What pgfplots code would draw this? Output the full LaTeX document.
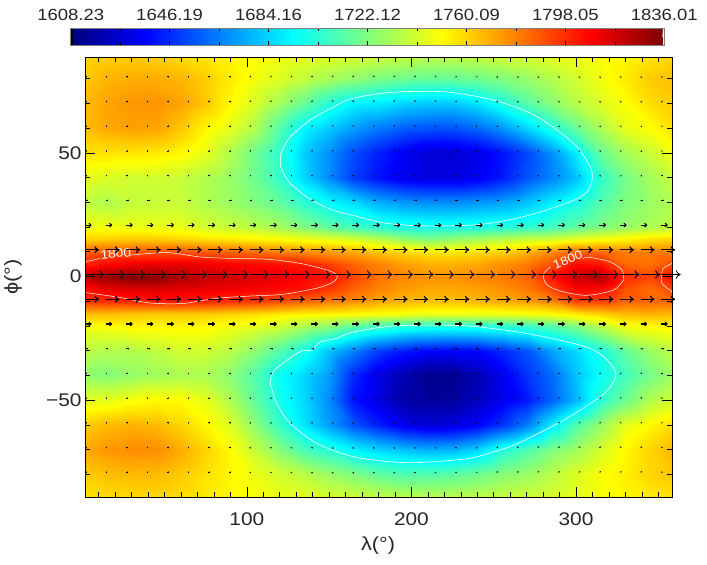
\documentclass[border=0pt]{standalone}
\usepackage{pgfplots}
\pgfplotsset{compat=1.18}
\usepackage{pgfplotstable}
\usepackage{fontspec}
\setmainfont[FakeStretch=1.14]{Liberation Sans}
\usetikzlibrary{arrows.meta}
\definecolor{txt}{gray}{0.15}
\pgfplotsset{
  colormap={idl}{rgb(0pt)=(0,0,0); rgb(3pt)=(0,0,0); rgb(4pt)=(0,0,.5); rgb(125pt)=(0,0,1); rgb(375pt)=(0,1,1); rgb(625pt)=(1,1,0); rgb(875pt)=(1,0,0); rgb(996pt)=(.5,0,0); rgb(997pt)=(1,1,1); rgb(1000pt)=(1,1,1)},
}
\tikzset{
 qtiny/.style={black,line width=.8pt,-{To[length=.8pt,width=1.6pt]}},
 qmid/.style={black,line width=1.1pt,-{To[length=3pt,width=4.5pt]}},
 qlarge/.style={black,line width=1.15pt,-{To[length=4.5pt,width=7pt]}},
 qhuge/.style={black,line width=.8pt,-{To[length=5pt,width=8.5pt]}},
}
\pgfplotstableread{
lon u v1 v2 v3
1.7 0.8 0 0 0
14.2 0.8 0 0 0
26.7 0.8 0 0 0
39.2 0.8 0 0 0
51.7 0.8 0 0 0
64.2 0.8 0 0 0
76.7 0.8 0 0 0
89.2 0.8 0 0 0
101.7 0.8 .15 .05 0
114.2 0.8 .15 .05 0
126.7 0.8 .15 .05 0
139.2 0.8 .2 .1 .05
151.7 0.8 .3 .15 .05
164.2 0.8 .3 .15 .05
176.7 0.8 .3 .15 .05
189.2 0.8 .3 .15 .05
201.7 0.8 .3 .15 .05
214.2 0.8 .2 .1 .05
226.7 0.8 .1 .05 0
239.2 0.8 .1 0 0
251.7 0.8 -.2 -.05 0
264.2 0.8 -.3 -.15 -.05
276.7 0.8 -.3 -.15 -.05
289.2 0.8 -.3 -.15 -.05
301.7 0.8 -.3 -.15 -.05
314.2 0.8 -.3 -.15 -.05
326.7 0.8 -.3 -.15 -.05
339.2 0.8 -.3 -.15 -.05
351.7 0.8 -.15 -.1 0
}\arrowtab
\begin{document}
\begin{tikzpicture}[x=1pt,y=1pt,every node/.style={text=txt}]
\path[use as bounding box] (0,0) rectangle (707,565);
\begin{axis}[name=main,at={(85pt,68pt)},anchor=south west,scale only axis,width=587pt,height=440pt,
  xmin=1.7,xmax=358.3,ymin=-89.2,ymax=88.8,view={0}{90},
  colormap name=idl,point meta min=1608.23,point meta max=1836.01,
  xtick={100,200,300},minor xtick={10,20,30,40,50,60,70,80,90,110,120,130,140,150,160,170,180,190,210,220,230,240,250,260,270,280,290,310,320,330,340,350},
  ytick={-50,0,50},yticklabels={−50,0,50},minor ytick={-80,-70,-60,-40,-30,-20,-10,10,20,30,40,60,70,80},
  xticklabel style={font=\fontsize{18.3}{20}\selectfont,text=txt,yshift=-12pt},
  yticklabel style={font=\fontsize{18.3}{20}\selectfont,text=txt},
  /pgf/number format/assume math mode=true,
  tick align=inside,major tick length=10pt,minor tick length=5pt,
  tick style={black,line width=.6pt},
  axis line style={black,line width=.7pt},
  axis on top,clip=false,
]
\addplot[surf,shader=interp,point meta=explicit,mesh/rows=23,mesh/cols=25,mesh/ordering=rowwise] table[row sep=\\,x=x,y=y,meta=z]{
x y z\\
1.7 -89.2 1757\\15 -89.2 1758\\30 -89.2 1759\\45 -89.2 1759\\60 -89.2 1758\\75 -89.2 1755\\90 -89.2 1752\\105 -89.2 1749\\120 -89.2 1746\\135 -89.2 1744\\150 -89.2 1741\\165 -89.2 1739\\180 -89.2 1737\\195 -89.2 1735\\210 -89.2 1735\\225 -89.2 1735\\240 -89.2 1736\\255 -89.2 1738\\270 -89.2 1740\\285 -89.2 1742\\300 -89.2 1745\\315 -89.2 1749\\330 -89.2 1752\\345 -89.2 1755\\358.3 -89.2 1757\\
1.7 -80 1762\\15 -80 1765\\30 -80 1766\\45 -80 1766\\60 -80 1762\\75 -80 1757\\90 -80 1752\\105 -80 1746\\120 -80 1740\\135 -80 1735\\150 -80 1728\\165 -80 1722\\180 -80 1715\\195 -80 1712\\210 -80 1712\\225 -80 1714\\240 -80 1718\\255 -80 1724\\270 -80 1728\\285 -80 1735\\300 -80 1743\\315 -80 1750\\330 -80 1754\\345 -80 1760\\358.3 -80 1763\\
1.7 -70 1770\\15 -70 1774\\30 -70 1776\\45 -70 1776\\60 -70 1769\\75 -70 1760\\90 -70 1751\\105 -70 1738\\120 -70 1723\\135 -70 1710\\150 -70 1702\\165 -70 1692\\180 -70 1685\\195 -70 1680\\210 -70 1677\\225 -70 1678\\240 -70 1685\\255 -70 1702\\270 -70 1712\\285 -70 1722\\300 -70 1730\\315 -70 1742\\330 -70 1752\\345 -70 1760\\358.3 -70 1767\\
1.7 -60 1762\\15 -60 1766\\30 -60 1768\\45 -60 1766\\60 -60 1760\\75 -60 1752\\90 -60 1743\\105 -60 1725\\120 -60 1706\\135 -60 1688\\150 -60 1672\\165 -60 1655\\180 -60 1643\\195 -60 1633\\210 -60 1628\\225 -60 1630\\240 -60 1636\\255 -60 1648\\270 -60 1665\\285 -60 1690\\300 -60 1712\\315 -60 1728\\330 -60 1745\\345 -60 1752\\358.3 -60 1758\\
1.7 -50 1743\\15 -50 1745\\30 -50 1749\\45 -50 1752\\60 -50 1751\\75 -50 1745\\90 -50 1733\\105 -50 1715\\120 -50 1698\\135 -50 1685\\150 -50 1668\\165 -50 1640\\180 -50 1630\\195 -50 1618\\210 -50 1615\\225 -50 1616\\240 -50 1623\\255 -50 1633\\270 -50 1642\\285 -50 1658\\300 -50 1677\\315 -50 1703\\330 -50 1718\\345 -50 1733\\358.3 -50 1740\\
1.7 -40 1726\\15 -40 1723\\30 -40 1727\\45 -40 1730\\60 -40 1732\\75 -40 1732\\90 -40 1725\\105 -40 1712\\120 -40 1695\\135 -40 1685\\150 -40 1672\\165 -40 1645\\180 -40 1630\\195 -40 1620\\210 -40 1612\\225 -40 1613\\240 -40 1620\\255 -40 1633\\270 -40 1648\\285 -40 1660\\300 -40 1680\\315 -40 1695\\330 -40 1708\\345 -40 1720\\358.3 -40 1728\\
1.7 -30 1735\\15 -30 1733\\30 -30 1733\\45 -30 1736\\60 -30 1740\\75 -30 1740\\90 -30 1735\\105 -30 1725\\120 -30 1712\\135 -30 1698\\150 -30 1680\\165 -30 1665\\180 -30 1650\\195 -30 1642\\210 -30 1637\\225 -30 1636\\240 -30 1637\\255 -30 1645\\270 -30 1655\\285 -30 1672\\300 -30 1685\\315 -30 1700\\330 -30 1715\\345 -30 1728\\358.3 -30 1735\\
1.7 -20 1748\\15 -20 1750\\30 -20 1752\\45 -20 1752\\60 -20 1752\\75 -20 1752\\90 -20 1748\\105 -20 1745\\120 -20 1740\\135 -20 1732\\150 -20 1725\\165 -20 1715\\180 -20 1708\\195 -20 1703\\210 -20 1701\\225 -20 1701\\240 -20 1701\\255 -20 1703\\270 -20 1706\\285 -20 1712\\300 -20 1722\\315 -20 1735\\330 -20 1748\\345 -20 1750\\358.3 -20 1753\\
1.7 -15 1765\\15 -15 1765\\30 -15 1763\\45 -15 1762\\60 -15 1762\\75 -15 1761\\90 -15 1760\\105 -15 1758\\120 -15 1755\\135 -15 1753\\150 -15 1752\\165 -15 1751\\180 -15 1750\\195 -15 1748\\210 -15 1746\\225 -15 1746\\240 -15 1746\\255 -15 1747\\270 -15 1748\\285 -15 1750\\300 -15 1755\\315 -15 1760\\330 -15 1765\\345 -15 1768\\358.3 -15 1765\\
1.7 -10 1796\\15 -10 1798\\30 -10 1800\\45 -10 1802\\60 -10 1802\\75 -10 1800\\90 -10 1797\\105 -10 1795\\120 -10 1790\\135 -10 1785\\150 -10 1780\\165 -10 1775\\180 -10 1770\\195 -10 1767\\210 -10 1765\\225 -10 1765\\240 -10 1767\\255 -10 1770\\270 -10 1773\\285 -10 1778\\300 -10 1793\\315 -10 1793\\330 -10 1785\\345 -10 1785\\358.3 -10 1785\\
1.7 -5 1805\\15 -5 1812\\30 -5 1815\\45 -5 1815\\60 -5 1813\\75 -5 1812\\90 -5 1810\\105 -5 1808\\120 -5 1806\\135 -5 1803\\150 -5 1795\\165 -5 1785\\180 -5 1778\\195 -5 1773\\210 -5 1770\\225 -5 1770\\240 -5 1772\\255 -5 1775\\270 -5 1780\\285 -5 1792\\300 -5 1808\\315 -5 1806\\330 -5 1790\\345 -5 1783\\358.3 -5 1792\\
1.7 0 1822\\15 0 1830\\30 0 1835\\45 0 1832\\60 0 1825\\75 0 1820\\90 0 1818\\105 0 1815\\120 0 1812\\135 0 1808\\150 0 1804\\165 0 1792\\180 0 1782\\195 0 1778\\210 0 1775\\225 0 1775\\240 0 1778\\255 0 1780\\270 0 1785\\285 0 1803\\300 0 1820\\315 0 1825\\330 0 1799\\345 0 1792\\358.3 0 1806\\
1.7 5 1800\\15 5 1806\\30 5 1810\\45 5 1812\\60 5 1812\\75 5 1810\\90 5 1808\\105 5 1806\\120 5 1804\\135 5 1802\\150 5 1794\\165 5 1785\\180 5 1778\\195 5 1772\\210 5 1768\\225 5 1768\\240 5 1770\\255 5 1775\\270 5 1780\\285 5 1790\\300 5 1805\\315 5 1803\\330 5 1785\\345 5 1782\\358.3 5 1790\\
1.7 10 1787\\15 10 1788\\30 10 1789\\45 10 1790\\60 10 1790\\75 10 1788\\90 10 1785\\105 10 1783\\120 10 1780\\135 10 1777\\150 10 1774\\165 10 1770\\180 10 1764\\195 10 1760\\210 10 1756\\225 10 1756\\240 10 1758\\255 10 1761\\270 10 1768\\285 10 1776\\300 10 1787\\315 10 1785\\330 10 1780\\345 10 1780\\358.3 10 1780\\
1.7 15 1760\\15 15 1761\\30 15 1762\\45 15 1762\\60 15 1760\\75 15 1757\\90 15 1755\\105 15 1753\\120 15 1750\\135 15 1747\\150 15 1745\\165 15 1741\\180 15 1735\\195 15 1727\\210 15 1722\\225 15 1726\\240 15 1730\\255 15 1734\\270 15 1738\\285 15 1740\\300 15 1745\\315 15 1749\\330 15 1752\\345 15 1757\\358.3 15 1760\\
1.7 20 1748\\15 20 1748\\30 20 1747\\45 20 1746\\60 20 1745\\75 20 1740\\90 20 1738\\105 20 1735\\120 20 1730\\135 20 1722\\150 20 1715\\165 20 1708\\180 20 1703\\195 20 1700\\210 20 1699\\225 20 1699\\240 20 1700\\255 20 1702\\270 20 1704\\285 20 1708\\300 20 1715\\315 20 1722\\330 20 1728\\345 20 1732\\358.3 20 1736\\
1.7 30 1735\\15 30 1733\\30 30 1737\\45 30 1738\\60 30 1738\\75 30 1733\\90 30 1728\\105 30 1722\\120 30 1715\\135 30 1703\\150 30 1693\\165 30 1685\\180 30 1675\\195 30 1670\\210 30 1668\\225 30 1668\\240 30 1670\\255 30 1673\\270 30 1680\\285 30 1690\\300 30 1699\\315 30 1712\\330 30 1722\\345 30 1728\\358.3 30 1733\\
1.7 40 1745\\15 40 1742\\30 40 1740\\45 40 1740\\60 40 1738\\75 40 1733\\90 40 1728\\105 40 1718\\120 40 1705\\135 40 1685\\150 40 1668\\165 40 1650\\180 40 1640\\195 40 1633\\210 40 1630\\225 40 1630\\240 40 1634\\255 40 1642\\270 40 1655\\285 40 1666\\300 40 1680\\315 40 1705\\330 40 1720\\345 40 1730\\358.3 40 1738\\
1.7 50 1757\\15 50 1757\\30 50 1756\\45 50 1755\\60 50 1752\\75 50 1745\\90 50 1733\\105 50 1718\\120 50 1703\\135 50 1683\\150 50 1669\\165 50 1653\\180 50 1643\\195 50 1634\\210 50 1628\\225 50 1627\\240 50 1632\\255 50 1640\\270 50 1652\\285 50 1668\\300 50 1690\\315 50 1717\\330 50 1730\\345 50 1738\\358.3 50 1748\\
1.7 60 1765\\15 60 1770\\30 60 1772\\45 60 1771\\60 60 1763\\75 60 1752\\90 60 1745\\105 60 1733\\120 60 1712\\135 60 1692\\150 60 1682\\165 60 1672\\180 60 1664\\195 60 1658\\210 60 1655\\225 60 1655\\240 60 1660\\255 60 1670\\270 60 1685\\285 60 1700\\300 60 1717\\315 60 1732\\330 60 1745\\345 60 1750\\358.3 60 1757\\
1.7 70 1766\\15 70 1771\\30 70 1774\\45 70 1775\\60 70 1771\\75 70 1763\\90 70 1752\\105 70 1742\\120 70 1730\\135 70 1717\\150 70 1702\\165 70 1692\\180 70 1690\\195 70 1685\\210 70 1682\\225 70 1682\\240 70 1688\\255 70 1700\\270 70 1713\\285 70 1724\\300 70 1735\\315 70 1743\\330 70 1750\\345 70 1758\\358.3 70 1762\\
1.7 80 1763\\15 80 1767\\30 80 1769\\45 80 1769\\60 80 1767\\75 80 1762\\90 80 1755\\105 80 1748\\120 80 1743\\135 80 1737\\150 80 1731\\165 80 1726\\180 80 1721\\195 80 1718\\210 80 1716\\225 80 1716\\240 80 1718\\255 80 1722\\270 80 1727\\285 80 1733\\300 80 1740\\315 80 1748\\330 80 1755\\345 80 1762\\358.3 80 1765\\
1.7 88.8 1760\\15 88.8 1761\\30 88.8 1762\\45 88.8 1761\\60 88.8 1759\\75 88.8 1756\\90 88.8 1753\\105 88.8 1750\\120 88.8 1747\\135 88.8 1745\\150 88.8 1743\\165 88.8 1741\\180 88.8 1739\\195 88.8 1737\\210 88.8 1736\\225 88.8 1736\\240 88.8 1737\\255 88.8 1739\\270 88.8 1741\\285 88.8 1744\\300 88.8 1746\\315 88.8 1749\\330 88.8 1752\\345 88.8 1756\\358.3 88.8 1760\\
};
% contours
\addplot[white,line width=.6pt,smooth,tension=.5] coordinates {(120.7,49.9)(126.3,56.4)(138.5,63.3)(152.5,68.5)(162.8,71.8)(182.9,74.2)(203.5,74.9)(223.6,74.5)(249.7,71.4)(272.2,66.1)(288.6,59.2)(300.8,52.3)(308.7,44.2)(309.9,39.8)(307.5,34.9)(300.8,31.5)(284.4,27.4)(264.3,23.6)(243.7,21.2)(223.6,20.5)(203.5,20.5)(182.9,21.7)(168.9,24.0)(152.5,26.8)(138.5,31.3)(126.3,37.8)(120.7,44.2)(120.7,49.9)};
\addplot[white,line width=.6pt,smooth,tension=.5] coordinates {(114.2,-43.2)(116,-38.6)(124.3,-33.9)(133.4,-30.1)(139.5,-29.8)(144.6,-26.5)(154.7,-25)(162.8,-22.8)(182.9,-20.4)(203.5,-19.7)(233.9,-20)(264.3,-22.4)(288.6,-25.5)(308.7,-29.1)(319,-33.9)(324.3,-39.3)(320.8,-44.7)(313,-49.4)(292.3,-58.2)(264.3,-67.6)(249.7,-71)(233.9,-73.7)(203.5,-75.3)(182.9,-74.7)(162.8,-72.6)(142.6,-67.5)(126.3,-59.4)(118.2,-51.3)(114.2,-43.2)};
\addplot[white,line width=.5pt] coordinates {(1.7,5.9)(10.8,7.3)};
\addplot[white,line width=.5pt,smooth,tension=.5] coordinates {(29,8.6)(51.4,9.7)(71.6,7.9)(91.7,7.3)(112.3,7.0)(132.4,5.3)(148.8,2.6)(154.9,0.5)(152.5,-2.2)(142.7,-4.7)(122,-7.2)(102,-7.9)(82,-8.8)(61.3,-10.9)(41.2,-10.7)(21.2,-8.3)(1.7,-6.5)};
\addplot[white,line width=.5pt,smooth,tension=.5] coordinates {(284.4,3.9)(280.1,0.8)(282.5,-3.5)(292.3,-6.2)(306.9,-7.6)(322.7,-5.5)(328.8,-1.5)(328.8,-0.2)(328,2.6)(320.8,5.9)(308.7,7.7)(304.2,7.3)};
\addplot[white,line width=.5pt,smooth,tension=.5] coordinates {(358.3,5.3)(353,3.2)(351.9,-0.2)(352.2,-2.8)(358.3,-6.2)};
\node[rotate=6,text=white,font=\fontsize{12}{13}\selectfont] at (axis cs:20.4,9.2) {1800};
\node[rotate=22,text=white,font=\fontsize{12}{13}\selectfont] at (axis cs:295,6.8) {1800};
% arrows
\addplot[quiver={u=\thisrow{u},v=\thisrow{v1},every arrow/.style={qtiny}}] table[x=lon,y expr=80.8]{\arrowtab};
\addplot[quiver={u=\thisrow{u},v=\thisrow{v1},every arrow/.style={qtiny}}] table[x=lon,y expr=70.8]{\arrowtab};
\addplot[quiver={u=\thisrow{u},v=\thisrow{v2},every arrow/.style={qtiny}}] table[x=lon,y expr=60.8]{\arrowtab};
\addplot[quiver={u=\thisrow{u},v=\thisrow{v2},every arrow/.style={qtiny}}] table[x=lon,y expr=50.8]{\arrowtab};
\addplot[quiver={u=\thisrow{u},v=\thisrow{v3},every arrow/.style={qtiny}}] table[x=lon,y expr=40.8]{\arrowtab};
\addplot[quiver={u=1.6,v=\thisrow{v3},every arrow/.style={qtiny}}] table[x=lon,y expr=30.8]{\arrowtab};
\addplot[quiver={u=4,v=0,every arrow/.style={qmid}}] table[x=lon,y expr=20.8]{\arrowtab};
\addplot[quiver={u=8.5,v=0,every arrow/.style={qlarge}}] table[x=lon,y expr=10.8]{\arrowtab};
\addplot[quiver={u=11.9,v=0,every arrow/.style={qhuge}}] table[x=lon,y expr=0.8]{\arrowtab};
\addplot[quiver={u=8.5,v=0,every arrow/.style={qlarge}}] table[x=lon,y expr=-9.2]{\arrowtab};
\addplot[quiver={u=4,v=0,every arrow/.style={qmid}}] table[x=lon,y expr=-19.2]{\arrowtab};
\addplot[quiver={u=1.6,v=-\thisrow{v3},every arrow/.style={qtiny}}] table[x=lon,y expr=-29.2]{\arrowtab};
\addplot[quiver={u=\thisrow{u},v=-\thisrow{v3},every arrow/.style={qtiny}}] table[x=lon,y expr=-39.2]{\arrowtab};
\addplot[quiver={u=\thisrow{u},v=-\thisrow{v2},every arrow/.style={qtiny}}] table[x=lon,y expr=-49.2]{\arrowtab};
\addplot[quiver={u=\thisrow{u},v=-\thisrow{v2},every arrow/.style={qtiny}}] table[x=lon,y expr=-59.2]{\arrowtab};
\addplot[quiver={u=\thisrow{u},v=-\thisrow{v1},every arrow/.style={qtiny}}] table[x=lon,y expr=-69.2]{\arrowtab};
\addplot[quiver={u=\thisrow{u},v=-\thisrow{v1},every arrow/.style={qtiny}}] table[x=lon,y expr=-79.2]{\arrowtab};
\end{axis}
\begin{axis}[at={(70.7pt,520pt)},anchor=south west,scale only axis,width=593.6pt,height=17pt,
  xmin=1608.23,xmax=1836.01,ymin=0,ymax=1,view={0}{90},
  colormap name=idl,point meta min=1608.23,point meta max=1836.01,
  xtick={1608.23,1646.19,1684.16,1722.12,1760.09,1798.05,1836.01},
  xticklabels={1608.23,1646.19,1684.16,1722.12,1760.09,1798.05,1836.01},
  minor xtick={1627.21,1665.18,1703.14,1741.1,1779.07,1817.03},
  ytick=\empty,xticklabel pos=upper,
  xticklabel style={font=\fontsize{16.2}{18}\selectfont,text=txt,yshift=4pt},
  tick align=inside,major tick length=4pt,minor tick length=3pt,
  tick style={black,line width=.5pt},
  axis line style={gray,line width=.7pt},
  axis on top,
]
\addplot[surf,shader=interp,point meta=explicit,mesh/rows=2,mesh/cols=10,mesh/ordering=rowwise] table[row sep=\\,x=x,y=y,meta=x]{
x y\\
1608.23 0\\1608.9 0\\1609.2 0\\1636.7 0\\1693.7 0\\1750.6 0\\1807.5 0\\1835.1 0\\1835.4 0\\1836.01 0\\
1608.23 1\\1608.9 1\\1609.2 1\\1636.7 1\\1693.7 1\\1750.6 1\\1807.5 1\\1835.1 1\\1835.4 1\\1836.01 1\\
};
\end{axis}
\node[font=\fontsize{19}{20}\selectfont] at (378,19) {λ(°)};
\node[rotate=90,font=\fontsize{19}{20}\selectfont] at (13,288) {ϕ(°)};
\end{tikzpicture}
\end{document}
